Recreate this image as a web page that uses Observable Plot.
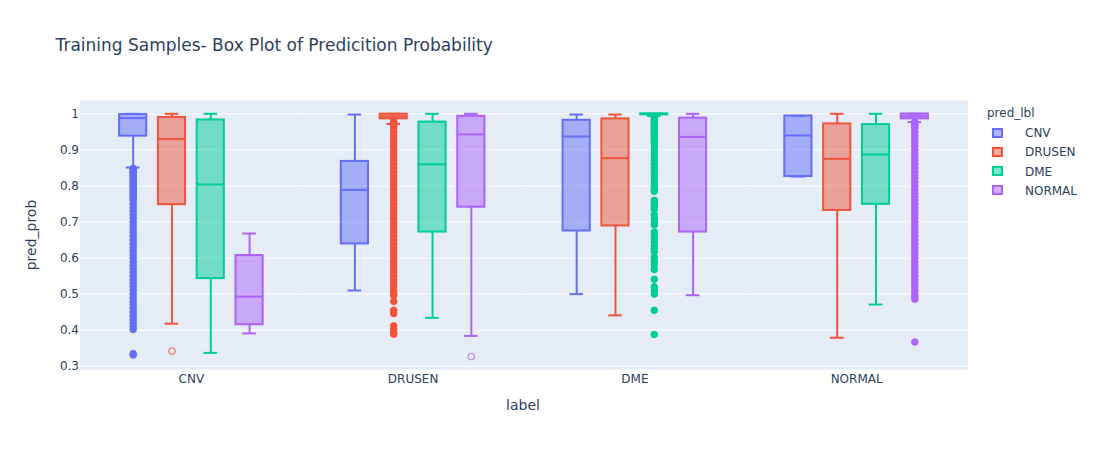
<!DOCTYPE html>
<html>
<head>
<meta charset="utf-8">
<script src="https://cdn.jsdelivr.net/npm/d3@7"></script>
<script src="https://cdn.jsdelivr.net/npm/@observablehq/plot@0.6"></script>
<style>
  html, body { margin: 0; padding: 0; background: #fff; }
  #wrap { position: relative; width: 1095px; height: 450px; font-family: "DejaVu Sans", Verdana, sans-serif; color: #2a3f5f; }
  #wrap svg { position: absolute; left: 0; top: 0; }
  .txt { position: absolute; line-height: 1; white-space: nowrap; }
  .title { left: 55.5px; top: 36.6px; font-size: 17px; }
  .xlab { left: 523px; top: 398.2px; font-size: 14px; transform: translateX(-50%); }
  .ylab { left: 31px; top: 235px; font-size: 14px; transform: translate(-50%, -50%) rotate(-90deg); }
  .legtitle { left: 987px; top: 107.4px; font-size: 12px; }
  .legtext { left: 1025px; font-size: 12px; }
  .sw { position: absolute; left: 992.3px; width: 10.4px; height: 10.4px; box-sizing: border-box; border: 2px solid; }
</style>
</head>
<body>
<div id="wrap"></div>
<script>
// Categories
const labels = ["CNV", "DRUSEN", "DME", "NORMAL"];
const predLabels = ["CNV", "DRUSEN", "DME", "NORMAL"];
const colors = ["#636efa", "#EF553B", "#00cc96", "#ab63fa"];
const yTicks = [0.3, 0.4, 0.5, 0.6, 0.7, 0.8, 0.9, 1];

// Box statistics (label-major order, pred_lbl within)
const boxLabel = ["CNV","CNV","CNV","CNV","DRUSEN","DRUSEN","DRUSEN","DRUSEN","DME","DME","DME","DME","NORMAL","NORMAL","NORMAL","NORMAL"];
const boxPred  = ["CNV","DRUSEN","DME","NORMAL","CNV","DRUSEN","DME","NORMAL","CNV","DRUSEN","DME","NORMAL","CNV","DRUSEN","DME","NORMAL"];
const whiskerLow  = [0.851, 0.418, 0.337, 0.391, 0.510, 0.972, 0.434, 0.384, 0.500, 0.441, 0.994, 0.497, 0.826, 0.379, 0.471, 0.977];
const q1          = [0.938, 0.748, 0.543, 0.415, 0.639, 0.986, 0.672, 0.741, 0.675, 0.689, 0.9975, 0.672, 0.826, 0.732, 0.749, 0.986];
const median      = [0.988, 0.930, 0.804, 0.493, 0.789, 0.993, 0.860, 0.943, 0.937, 0.877, 0.999, 0.936, 0.940, 0.875, 0.887, 0.9935];
const q3          = [0.998, 0.990, 0.983, 0.607, 0.868, 0.999, 0.977, 0.993, 0.982, 0.986, 1.000, 0.988, 0.994, 0.972, 0.970, 0.9995];
const whiskerHigh = [1.000, 1.000, 1.000, 0.668, 0.998, 1.000, 1.000, 1.000, 0.998, 0.998, 1.000, 1.000, 0.994, 1.000, 1.000, 1.000];

// Outliers
const outCNV_CNV = [0.849, 0.845, 0.841, 0.837, 0.833, 0.829, 0.825, 0.82, 0.815, 0.81, 0.805, 0.80, 0.795, 0.79, 0.785, 0.78, 0.775, 0.77, 0.765, 0.76,
  0.75, 0.74, 0.73, 0.72, 0.71, 0.70, 0.69, 0.68, 0.67, 0.66, 0.65, 0.64, 0.63, 0.62, 0.61, 0.60, 0.59, 0.58, 0.57, 0.56,
  0.55, 0.54, 0.53, 0.52, 0.51, 0.50, 0.49, 0.48, 0.47, 0.46, 0.45, 0.44, 0.43, 0.42, 0.41, 0.402, 0.335, 0.331];
const outDRUSEN_DRUSEN = [0.979, 0.975, 0.97, 0.965, 0.96, 0.95, 0.94, 0.93, 0.92, 0.91, 0.90, 0.89, 0.88, 0.87, 0.86, 0.85, 0.84, 0.83, 0.82, 0.81,
  0.80, 0.79, 0.78, 0.77, 0.76, 0.75, 0.74, 0.73, 0.72, 0.71, 0.70, 0.69, 0.68, 0.67, 0.66, 0.65, 0.64, 0.63, 0.62, 0.61,
  0.60, 0.59, 0.58, 0.57, 0.56, 0.55, 0.54, 0.53, 0.52, 0.51, 0.503, 0.497, 0.48, 0.455, 0.446, 0.412, 0.403, 0.394, 0.389];
const outDME_DME = [0.993, 0.99, 0.985, 0.98, 0.975, 0.97, 0.965, 0.96, 0.955, 0.95, 0.945, 0.94, 0.935, 0.93, 0.925, 0.92, 0.91, 0.90, 0.89, 0.88,
  0.87, 0.86, 0.85, 0.84, 0.83, 0.82, 0.81, 0.80, 0.79, 0.785, 0.76, 0.752, 0.745, 0.735, 0.72, 0.71, 0.70, 0.692, 0.672, 0.665,
  0.655, 0.645, 0.635, 0.625, 0.618, 0.602, 0.59, 0.582, 0.568, 0.541, 0.52, 0.51, 0.50, 0.455, 0.388];
const outNORMAL_NORMAL = [0.977, 0.973, 0.97, 0.965, 0.96, 0.95, 0.94, 0.93, 0.92, 0.91, 0.90, 0.89, 0.88, 0.87, 0.86, 0.85, 0.84, 0.83, 0.82, 0.81,
  0.80, 0.79, 0.78, 0.77, 0.76, 0.75, 0.74, 0.73, 0.72, 0.71, 0.70, 0.69, 0.68, 0.67, 0.66, 0.65, 0.64, 0.63, 0.62, 0.61,
  0.60, 0.59, 0.58, 0.57, 0.56, 0.55, 0.54, 0.53, 0.52, 0.51, 0.50, 0.492, 0.486, 0.367];
// Mild (hollow) outliers
const mildCNV_DRUSEN = [0.342];
const mildDRUSEN_NORMAL = [0.327];

const boxes = boxLabel.map((label, i) => ({
  label, pred: boxPred[i], lo: whiskerLow[i], q1: q1[i], med: median[i], q3: q3[i], hi: whiskerHigh[i]
}));
const mk = (label, pred, arr) => arr.map(v => ({label, pred, v}));
const outliers = [
  ...mk("CNV", "CNV", outCNV_CNV),
  ...mk("DRUSEN", "DRUSEN", outDRUSEN_DRUSEN),
  ...mk("DME", "DME", outDME_DME),
  ...mk("NORMAL", "NORMAL", outNORMAL_NORMAL)
];
const mild = [
  ...mk("CNV", "DRUSEN", mildCNV_DRUSEN),
  ...mk("DRUSEN", "NORMAL", mildDRUSEN_NORMAL)
];

const chart = Plot.plot({
  width: 1095,
  height: 450,
  marginTop: 100,
  marginBottom: 81,
  marginLeft: 80,
  marginRight: 128,
  facet: {marginTop: 0, marginBottom: 0, marginLeft: 0, marginRight: 0},
  style: {fontFamily: "'DejaVu Sans', Verdana, sans-serif", fontSize: "12px", color: "#2a3f5f", background: "transparent"},
  fx: {domain: labels, padding: 0, round: false, label: null, tickSize: 0, tickPadding: 5, axis: "bottom"},
  x: {domain: predLabels, paddingInner: 0.3, paddingOuter: 1.007, round: false, axis: null},
  y: {domain: [0.2909, 1.0369], ticks: yTicks, tickFormat: d => String(d), tickSize: 0, tickPadding: 1.5, label: null},
  color: {domain: predLabels, range: colors},
  marks: [
    Plot.frame({fill: "#E5ECF6", stroke: "none", insetLeft: -0.6, insetRight: -0.6}),
    Plot.ruleY(yTicks, {stroke: "white", strokeWidth: 1, insetLeft: -0.6, insetRight: -0.6}),
    Plot.ruleX(boxes, {fx: "label", x: "pred", y1: "lo", y2: "q1", stroke: "pred", strokeWidth: 2}),
    Plot.ruleX(boxes, {fx: "label", x: "pred", y1: "q3", y2: "hi", stroke: "pred", strokeWidth: 2}),
    Plot.barY(boxes, {fx: "label", x: "pred", y1: "q1", y2: "q3", fill: "pred", fillOpacity: 0.5, stroke: "pred", strokeWidth: 2}),
    Plot.tickY(boxes, {fx: "label", x: "pred", y: "med", stroke: "pred", strokeWidth: 2}),
    Plot.tickY(boxes, {fx: "label", x: "pred", y: "lo", stroke: "pred", strokeWidth: 2, insetLeft: 6.8, insetRight: 6.8}),
    Plot.tickY(boxes, {fx: "label", x: "pred", y: "hi", stroke: "pred", strokeWidth: 2, insetLeft: 6.8, insetRight: 6.8}),
    Plot.dot(outliers, {fx: "label", x: "pred", y: "v", fill: "pred", stroke: "pred", strokeWidth: 1, r: 3.3}),
    Plot.dot(mild, {fx: "label", x: "pred", y: "v", fill: "none", stroke: "pred", strokeWidth: 1.3, strokeOpacity: 0.7, r: 3.2})
  ]
});

const wrap = document.getElementById("wrap");
wrap.appendChild(chart);

function addText(cls, text, top) {
  const d = document.createElement("div");
  d.className = "txt " + cls;
  d.textContent = text;
  if (top !== undefined) d.style.top = top + "px";
  wrap.appendChild(d);
}
addText("title", "Training Samples- Box Plot of Predicition Probability");
addText("xlab", "label");
addText("ylab", "pred_prob");
addText("legtitle", "pred_lbl");
const legTextTops = [127.2, 146.4, 165.6, 184.8];
const swTops = [127.5, 146.7, 165.9, 185.1];
predLabels.forEach((p, i) => {
  const sw = document.createElement("div");
  sw.className = "sw";
  sw.style.top = swTops[i] + "px";
  sw.style.borderColor = colors[i];
  sw.style.background = d3.color(colors[i]).copy({opacity: 0.5}).formatRgb();
  wrap.appendChild(sw);
  addText("legtext", p, legTextTops[i]);
});
</script>
</body>
</html>
